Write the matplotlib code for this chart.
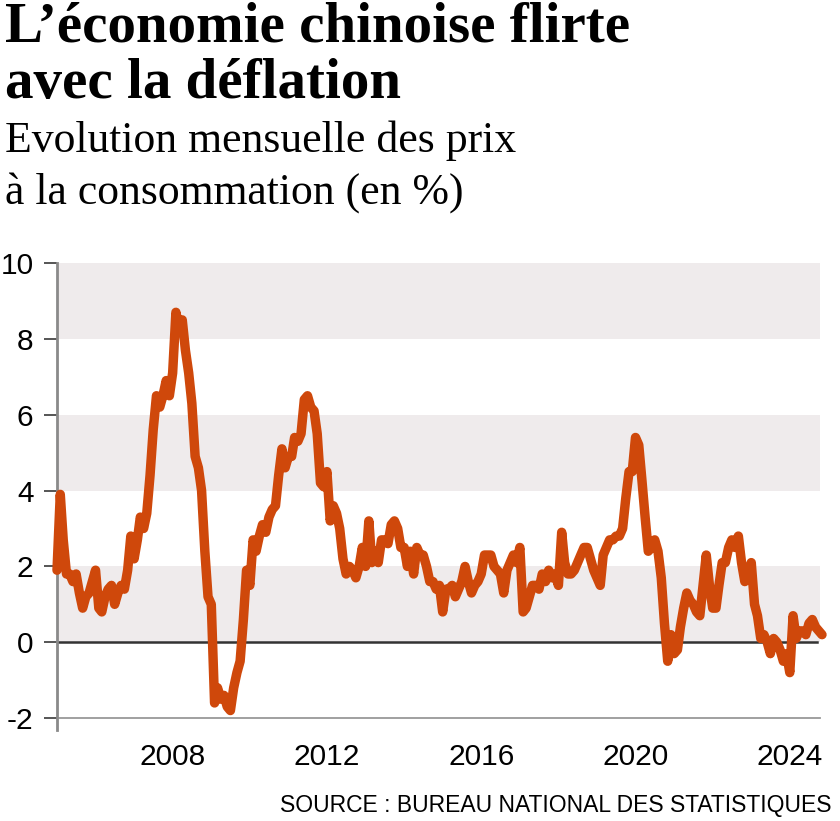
import numpy as np
import pandas as pd
import matplotlib
matplotlib.use('Agg')
import matplotlib.pyplot as plt

# monthly consumer price inflation, China, year on year (%), Jan 2005 - Nov 2024
cpi = [
    1.9, 3.9, 2.7, 1.8, 1.8, 1.6, 1.8, 1.3, 0.9, 1.2, 1.3, 1.6,  # 2005
    1.9, 0.9, 0.8, 1.2, 1.4, 1.5, 1.0, 1.3, 1.5, 1.4, 1.9, 2.8,  # 2006
    2.2, 2.7, 3.3, 3.0, 3.4, 4.4, 5.6, 6.5, 6.2, 6.5, 6.9, 6.5,  # 2007
    7.1, 8.7, 8.3, 8.5, 7.7, 7.1, 6.3, 4.9, 4.6, 4.0, 2.4, 1.2,  # 2008
    1.0, -1.6, -1.2, -1.5, -1.4, -1.7, -1.8, -1.2, -0.8, -0.5, 0.6, 1.9,  # 2009
    1.5, 2.7, 2.4, 2.8, 3.1, 2.9, 3.3, 3.5, 3.6, 4.4, 5.1, 4.6,  # 2010
    4.9, 4.9, 5.4, 5.3, 5.5, 6.4, 6.5, 6.2, 6.1, 5.5, 4.2, 4.1,  # 2011
    4.5, 3.2, 3.6, 3.4, 3.0, 2.2, 1.8, 2.0, 1.9, 1.7, 2.0, 2.5,  # 2012
    2.0, 3.2, 2.1, 2.4, 2.1, 2.7, 2.7, 2.6, 3.1, 3.2, 3.0, 2.5,  # 2013
    2.5, 2.0, 2.4, 1.8, 2.5, 2.3, 2.3, 2.0, 1.6, 1.6, 1.4, 1.5,  # 2014
    0.8, 1.4, 1.4, 1.5, 1.2, 1.4, 1.6, 2.0, 1.6, 1.3, 1.5, 1.6,  # 2015
    1.8, 2.3, 2.3, 2.3, 2.0, 1.9, 1.8, 1.3, 1.9, 2.1, 2.3, 2.1,  # 2016
    2.5, 0.8, 0.9, 1.2, 1.5, 1.5, 1.4, 1.8, 1.6, 1.9, 1.7, 1.8,  # 2017
    1.5, 2.9, 2.1, 1.8, 1.8, 1.9, 2.1, 2.3, 2.5, 2.5, 2.2, 1.9,  # 2018
    1.7, 1.5, 2.3, 2.5, 2.7, 2.7, 2.8, 2.8, 3.0, 3.8, 4.5, 4.5,  # 2019
    5.4, 5.2, 4.3, 3.3, 2.4, 2.5, 2.7, 2.4, 1.7, 0.5, -0.5, 0.2,  # 2020
    -0.3, -0.2, 0.4, 0.9, 1.3, 1.1, 1.0, 0.8, 0.7, 1.5, 2.3, 1.5,  # 2021
    0.9, 0.9, 1.5, 2.1, 2.1, 2.5, 2.7, 2.5, 2.8, 2.1, 1.6, 1.8,  # 2022
    2.1, 1.0, 0.7, 0.1, 0.2, 0.0, -0.3, 0.1, 0.0, -0.2, -0.5, -0.3,  # 2023
    -0.8, 0.7, 0.1, 0.3, 0.3, 0.2, 0.5, 0.6, 0.4, 0.3, 0.2,  # 2024
]
dates = pd.date_range('2005-01-01', periods=len(cpi), freq='MS')

year_ticks = [2008, 2012, 2016, 2020, 2024]
y_ticks = [-2, 0, 2, 4, 6, 8, 10]
bands = [(0, 2), (4, 6), (8, 10)]

title_lines = ["L’économie chinoise flirte", "avec la déflation"]
subtitle_lines = ["Evolution mensuelle des prix", "à la consommation (en %)"]
source = "SOURCE : BUREAU NATIONAL DES STATISTIQUES"

W, H = 840, 821
fig = plt.figure(figsize=[W / 100, H / 100], dpi=100)

# axes box placed in pixels
left, right, top, bottom = 57, 822, 263, 729.5
ax = fig.add_axes([left / W, 1 - bottom / H, (right - left) / W, (bottom - top) / H])

band_color = '#efebec'
for lo, hi in bands:
    ax.axhspan(lo, hi, xmin=0, xmax=0.997, color=band_color, lw=0, zorder=0)

ax.axhline(0, xmin=0, xmax=0.993, color='#333333', lw=1.8, zorder=1)
ax.axhline(-2, xmin=0, xmax=0.997, color='#999999', lw=1.3, zorder=1)

ax.plot(dates, cpi, color='#cf480b', lw=6.8, solid_joinstyle='round',
        solid_capstyle='round', clip_on=False, zorder=3)

ax.set_xlim(dates[0], dates[-1])
ax.set_ylim(-2.3, 10)

sans = ['Liberation Sans Narrow', 'Liberation Sans', 'DejaVu Sans']
ax.set_yticks(y_ticks)
ax.set_yticklabels([str(v) for v in y_ticks], family=sans, fontsize=21.5)
ax.set_xticks([pd.Timestamp('%d-01-01' % y) for y in year_ticks])
ax.set_xticklabels([str(y) for y in year_ticks], family=sans, fontsize=21.5)
ax.tick_params(axis='y', length=9.5, width=1.4, color='#555555', pad=7.5)
ax.tick_params(axis='x', length=0, pad=10)

for side in ['top', 'right', 'bottom']:
    ax.spines[side].set_visible(False)
ax.spines['left'].set_color('#8a8a8a')
ax.spines['left'].set_linewidth(2)

serif = ['Liberation Serif', 'DejaVu Serif']
for txt, base in zip(title_lines, [42, 98]):
    fig.text(5 / W, 1 - base / H, txt, family=serif, fontsize=41,
             fontweight='bold', va='baseline', ha='left')
for txt, base in zip(subtitle_lines, [152, 204]):
    fig.text(5 / W, 1 - base / H, txt, family=serif, fontsize=31.5,
             va='baseline', ha='left')
fig.text(832 / W, 1 - 812 / H, source, family=sans, fontsize=16.5,
         va='baseline', ha='right')

plt.savefig('out.png', dpi=100)
